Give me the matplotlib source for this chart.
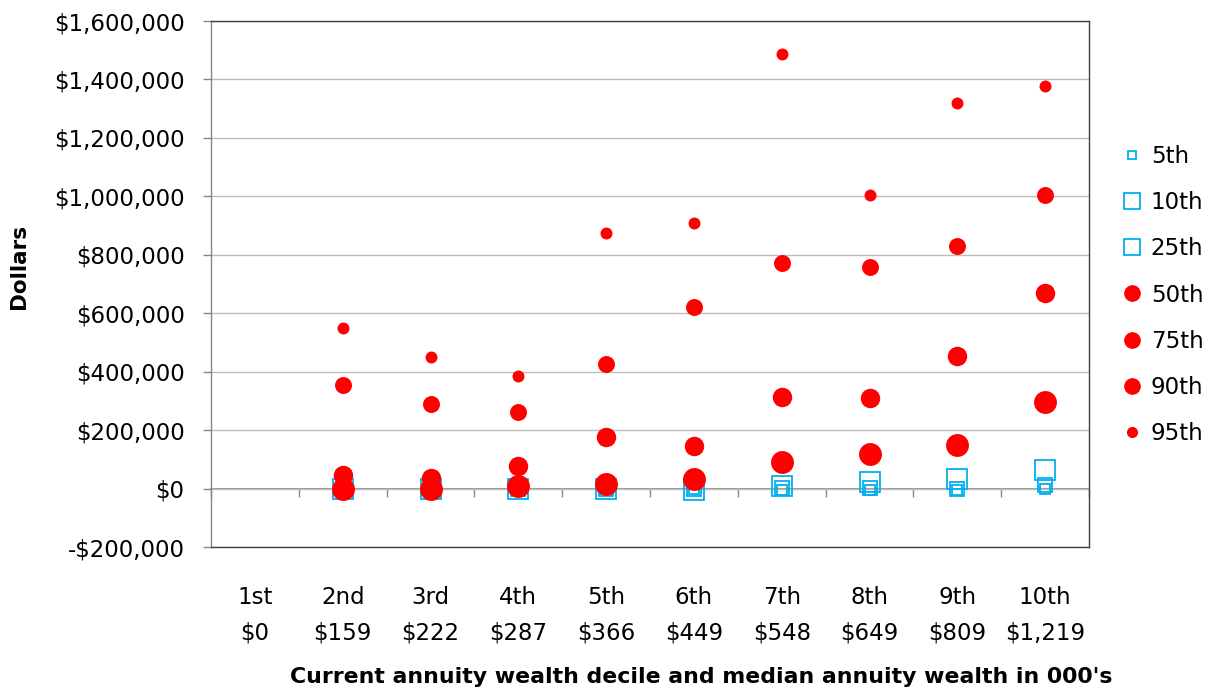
import numpy as np
import matplotlib
matplotlib.use("Agg")
import matplotlib.pyplot as plt
from matplotlib.ticker import FuncFormatter, MultipleLocator, FixedLocator

# Annuity wealth deciles and their median annuity wealth (000's)
deciles = ["1st", "2nd", "3rd", "4th", "5th", "6th", "7th", "8th", "9th", "10th"]
median_wealth = ["$0", "$159", "$222", "$287", "$366", "$449", "$548", "$649", "$809", "$1,219"]

nan = np.nan
# Percentiles of the outcome distribution, in dollars (1st decile has no data)
p5 = [nan, 0, 0, 0, 0, 0, -4000, -5000, -5000, 0]
p10 = [nan, 0, 0, 0, 0, 0, 1000, 1000, 0, 12000]
p25 = [nan, 0, 0, 0, 0, -5000, 10000, 21000, 31000, 62000]
p50 = [nan, 0, 0, 8000, 17000, 33000, 90000, 117000, 150000, 297000]
p75 = [nan, 48000, 35000, 78000, 177000, 146000, 314000, 310000, 452000, 668000]
p90 = [nan, 353000, 291000, 263000, 426000, 621000, 772000, 757000, 830000, 1003000]
p95 = [nan, 551000, 450000, 386000, 876000, 910000, 1488000, 1003000, 1320000, 1376000]

series_labels = ["5th", "10th", "25th", "50th", "75th", "90th", "95th"]

plt.rcParams["font.family"] = ["DejaVu Sans"]

BLUE = "#00B0F0"
RED = "#FF0000"
AXIS_GRAY = "#868686"
GRID_GRAY = "#BDBDBD"
BORDER = "#404040"
FS = 16.5

W, H = 1212, 694
fig = plt.figure(figsize=(W / 100, H / 100), dpi=100)
ax = fig.add_axes([211 / W, 1 - 547 / H, (1089 - 211) / W, (547 - 21) / H])

x = np.arange(len(deciles))
ymin, ymax = -200000, 1600000

square_specs = [(p5, 7.2), (p10, 10.0), (p25, 14.4)]
circle_specs = [(p50, 16.5), (p75, 14.0), (p90, 12.2), (p95, 8.6)]

handles = []
for (vals, ms), lab in zip(square_specs, series_labels[:3]):
    h, = ax.plot(x, vals, ls="none", marker="s", ms=ms, mfc="none",
                 mec=BLUE, mew=1.3, label=lab, zorder=3)
    handles.append(h)
for (vals, ms), lab in zip(circle_specs, series_labels[3:]):
    h, = ax.plot(x, vals, ls="none", marker="o", ms=ms, mfc=RED,
                 mec=RED, mew=0, label=lab, zorder=4)
    handles.append(h)

ax.set_xlim(-0.5, len(deciles) - 0.5)
ax.set_ylim(ymin, ymax)

# y axis: dollar ticks with gridlines
ax.yaxis.set_major_locator(MultipleLocator(200000))
ax.yaxis.set_major_formatter(FuncFormatter(
    lambda v, p: ("-$" if v < 0 else "$") + f"{abs(v):,.0f}"))
ax.grid(axis="y", color=GRID_GRAY, lw=1.0, zorder=0)
ax.set_axisbelow(True)
ax.tick_params(axis="y", direction="out", length=6, width=1.0,
               color=AXIS_GRAY, labelsize=FS, pad=13)

# Category labels along the bottom of the plot area
ax.xaxis.set_major_locator(FixedLocator(x))
ax.set_xticklabels([f"{d}\n{m}" for d, m in zip(deciles, median_wealth)],
                   linespacing=1.7)
ax.tick_params(axis="x", length=0, labelsize=FS, pad=28)

for side in ("top", "right", "bottom"):
    ax.spines[side].set_color(BORDER)
    ax.spines[side].set_linewidth(1.0)
ax.spines["left"].set_color(AXIS_GRAY)
ax.spines["left"].set_linewidth(1.0)

# Horizontal category axis crossing at $0, with tick marks between categories
zero_frac = (0 - ymin) / (ymax - ymin)
sec = ax.secondary_xaxis(zero_frac)
sec.spines["bottom"].set_color(AXIS_GRAY)
sec.spines["bottom"].set_linewidth(1.2)
sec.xaxis.set_major_locator(FixedLocator(np.arange(len(deciles) + 1) - 0.5))
sec.tick_params(axis="x", direction="out", length=6, width=1.0,
                color=AXIS_GRAY, labelbottom=False)

fig.text(19 / W, 1 - 266 / H, "Dollars", rotation=90, ha="center", va="center",
         fontsize=15.5, fontweight="bold")
fig.text(701 / W, 1 - 677 / H,
         "Current annuity wealth decile and median annuity wealth in 000's",
         ha="center", va="center", fontsize=15.8, fontweight="bold")

leg = fig.legend(handles=handles, loc="center left",
                 bbox_to_anchor=(1121 / W, 1 - 295 / H), frameon=False,
                 fontsize=FS, handlelength=1.0, handletextpad=0.3,
                 labelspacing=1.01, borderpad=0, borderaxespad=0)
legend_sizes = [6, 11, 11.5, 12, 12, 12, 8]
for lh, s in zip(leg.legend_handles, legend_sizes):
    lh.set_markersize(s)

fig.savefig("out.png", dpi=100)
